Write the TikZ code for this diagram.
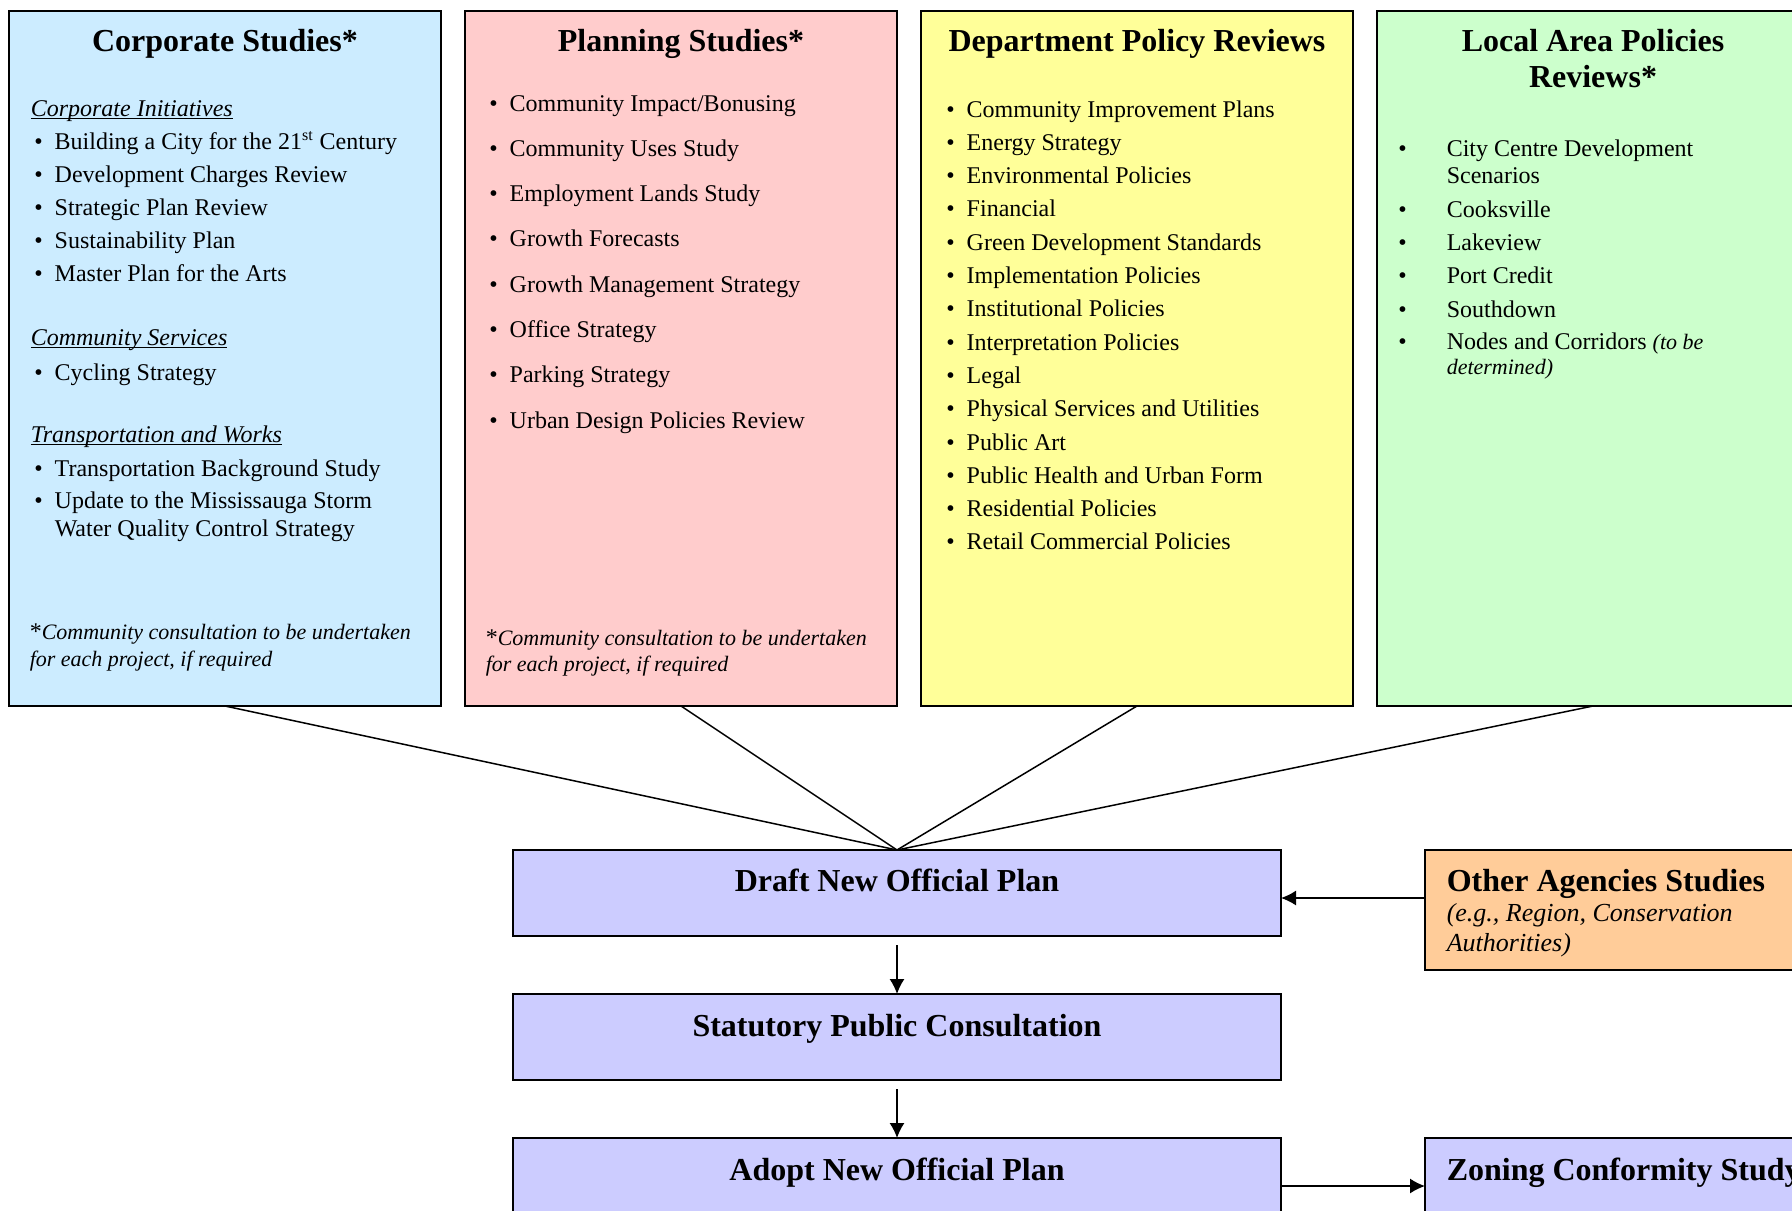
\documentclass[tikz,border=0pt]{standalone}
\usepackage{fontspec}
\setmainfont{Liberation Serif}
\usetikzlibrary{positioning,arrows.meta}

\definecolor{corpblue}{HTML}{CCECFF}
\definecolor{planpink}{HTML}{FFCCCC}
\definecolor{deptyellow}{HTML}{FFFF99}
\definecolor{localgreen}{HTML}{CCFFCC}
\definecolor{stagelilac}{HTML}{CCCCFF}
\definecolor{agencyorange}{HTML}{FFCC99}

\newcommand{\bul}{\llap{\textbullet\hspace{6pt}}}
\newcommand{\wbul}{\llap{\textbullet\hspace{20pt}}}
\newcommand{\secline}[1]{\setbox0\hbox{\itshape #1}\rlap{\rule[-1.3pt]{\wd0}{0.5pt}}\box0}

\begin{document}
\begin{tikzpicture}[x=0.5pt,y=-0.5pt,>={Latex[length=7.5pt,width=7.5pt]},
  node distance=12pt, line width=0.75pt]
  \tikzstyle{studybox}=[draw=black,line width=1pt,minimum width=216pt,
    minimum height=347.5pt,inner sep=0pt,outer sep=0pt,anchor=north west]
  \tikzstyle{stagebox}=[draw=black,line width=1pt,fill=stagelilac,
    minimum width=384pt,minimum height=43pt,inner sep=0pt,outer sep=0pt]
  \tikzstyle{sidebox}=[draw=black,line width=1pt,minimum width=216pt,
    inner sep=0pt,outer sep=0pt]
  \tikzstyle{heading}=[anchor=base,inner sep=0pt,font=\fontsize{16}{19}\selectfont\bfseries]
  \tikzstyle{entry}=[anchor=base west,inner sep=0pt,font=\fontsize{12}{14}\selectfont]
  \tikzstyle{note}=[anchor=base west,inner sep=0pt,font=\fontsize{11}{13}\selectfont\itshape]
  \useasboundingbox (0,0) rectangle (1792,1210);
  \clip (0,0) rectangle (1792,1210);

  % the four study boxes
  \node[studybox, fill=corpblue] (corp) at (9,11) {};
  \node[studybox, fill=planpink, right=of corp] (plan) {};
  \node[studybox, fill=deptyellow, right=of plan] (dept) {};
  \node[studybox, fill=localgreen, right=of dept] (local) {};

  % Corporate Studies
  \node[heading] (corp-title) at (225,51) {Corporate Studies*};
  \node[entry] (corp-h1) at (30,116) {\secline{Corporate Initiatives}};
  \foreach \t [count=\i] in {Building a City for the 21\textsuperscript{st} Century,
      Development Charges Review, Strategic Plan Review, Sustainability Plan,
      Master Plan for the Arts}
    \node[entry] (corp-a\i) at (54,{116+33*\i}) {\bul\t};
  \node[entry] (corp-h2) at (30,345) {\secline{Community Services}};
  \node[entry] (corp-b1) at (54,380) {\bul Cycling Strategy};
  \node[entry] (corp-h3) at (30,442) {\secline{Transportation and Works}};
  \node[entry] (corp-c1) at (54,476) {\bul Transportation Background Study};
  \node[entry] (corp-c2) at (54,508) {\bul Update to the Mississauga Storm};
  \node[entry] (corp-c3) at (54,536) {Water Quality Control Strategy};
  \node[note] (corp-n1) at (29,639) {{\upshape\fontsize{12}{14}\selectfont *}Community consultation to be undertaken};
  \node[note] (corp-n2) at (29,666) {for each project, if required};

  % Planning Studies
  \node[heading] (plan-title) at (681,51) {Planning Studies*};
  \foreach \t [count=\i] in {Community Impact/Bonusing, Community Uses Study,
      Employment Lands Study, Growth Forecasts, Growth Management Strategy,
      Office Strategy, Parking Strategy, Urban Design Policies Review}
    \node[entry] (plan-\i) at (509,{111+45.3*(\i-1)}) {\bul\t};
  \node[note] (plan-n1) at (485,645) {{\upshape\fontsize{12}{14}\selectfont *}Community consultation to be undertaken};
  \node[note] (plan-n2) at (485,671) {for each project, if required};

  % Department Policy Reviews
  \node[heading] (dept-title) at (1137,51) {Department Policy Reviews};
  \foreach \t [count=\i] in {Community Improvement Plans, Energy Strategy,
      Environmental Policies, Financial, Green Development Standards,
      Implementation Policies, Institutional Policies, Interpretation Policies,
      Legal, Physical Services and Utilities, Public Art,
      Public Health and Urban Form, Residential Policies,
      Retail Commercial Policies}
    \node[entry] (dept-\i) at (966,{117+33.3*(\i-1)}) {\bul\t};

  % Local Area Policies Reviews
  \node[heading] (local-title) at (1593,51) {Local Area Policies};
  \node[heading] (local-title2) at (1593,87) {Reviews*};
  \node[entry] (local-1) at (1446,156) {\wbul City Centre Development};
  \node[entry] (local-1b) at (1446,183) {Scenarios};
  \foreach \t [count=\i from 2] in {Cooksville, Lakeview, Port Credit, Southdown}
    \node[entry] (local-\i) at (1446,{217+33.4*(\i-2)}) {\wbul\t};
  \node[entry] (local-6) at (1446,349) {\wbul Nodes and Corridors {\fontsize{11}{13}\selectfont\itshape (to be}};
  \node[note] (local-6b) at (1446,374) {determined)};

  % Official Plan stages
  \node[stagebox, below=72pt of plan.south east] (draft) {};
  \node[stagebox, below=29pt of draft] (stat) {};
  \node[stagebox, below=29pt of stat] (adopt) {};
  \node[sidebox, fill=agencyorange, minimum height=60pt,
    right=72pt of draft.north east, anchor=north west] (agency) {};
  \node[sidebox, fill=stagelilac, minimum height=43pt,
    right=72pt of adopt.north east, anchor=north west] (zoning) {};

  \node[heading] (draft-t) at ([yshift=-20.5pt]draft.north) {Draft New Official Plan};
  \node[heading] (stat-t) at ([yshift=-21pt]stat.north) {Statutory Public Consultation};
  \node[heading] (adopt-t) at ([yshift=-21pt]adopt.north) {Adopt New Official Plan};
  \node[heading, anchor=base west] (agency-t) at ([xshift=10.5pt,yshift=-20.5pt]agency.north west) {Other Agencies Studies};
  \node[entry, font=\fontsize{13}{15}\selectfont\itshape] (agency-e1)
    at ([xshift=10.5pt,yshift=-35.5pt]agency.north west) {(e.g., Region, Conservation};
  \node[entry, font=\fontsize{13}{15}\selectfont\itshape] (agency-e2)
    at ([xshift=10.5pt,yshift=-50.5pt]agency.north west) {Authorities)};
  \node[heading, anchor=base west] (zoning-t) at ([xshift=10.5pt,yshift=-21pt]zoning.north west) {Zoning Conformity Study};

  % connectors
  \foreach \b in {corp,plan,dept,local}
    \draw (\b.south) -- (draft.north);
  \draw[->] ([yshift=-2.5pt]agency.west |- draft.east) -- ([yshift=-2.5pt]draft.east);
  \draw[->, shorten <=4.5pt] (draft) -- (stat);
  \draw[->, shorten <=4.5pt] (stat) -- (adopt);
  \draw[->] ([yshift=-2.5pt]adopt.east) -- ([yshift=-2.5pt]zoning.west);
\end{tikzpicture}
\end{document}
